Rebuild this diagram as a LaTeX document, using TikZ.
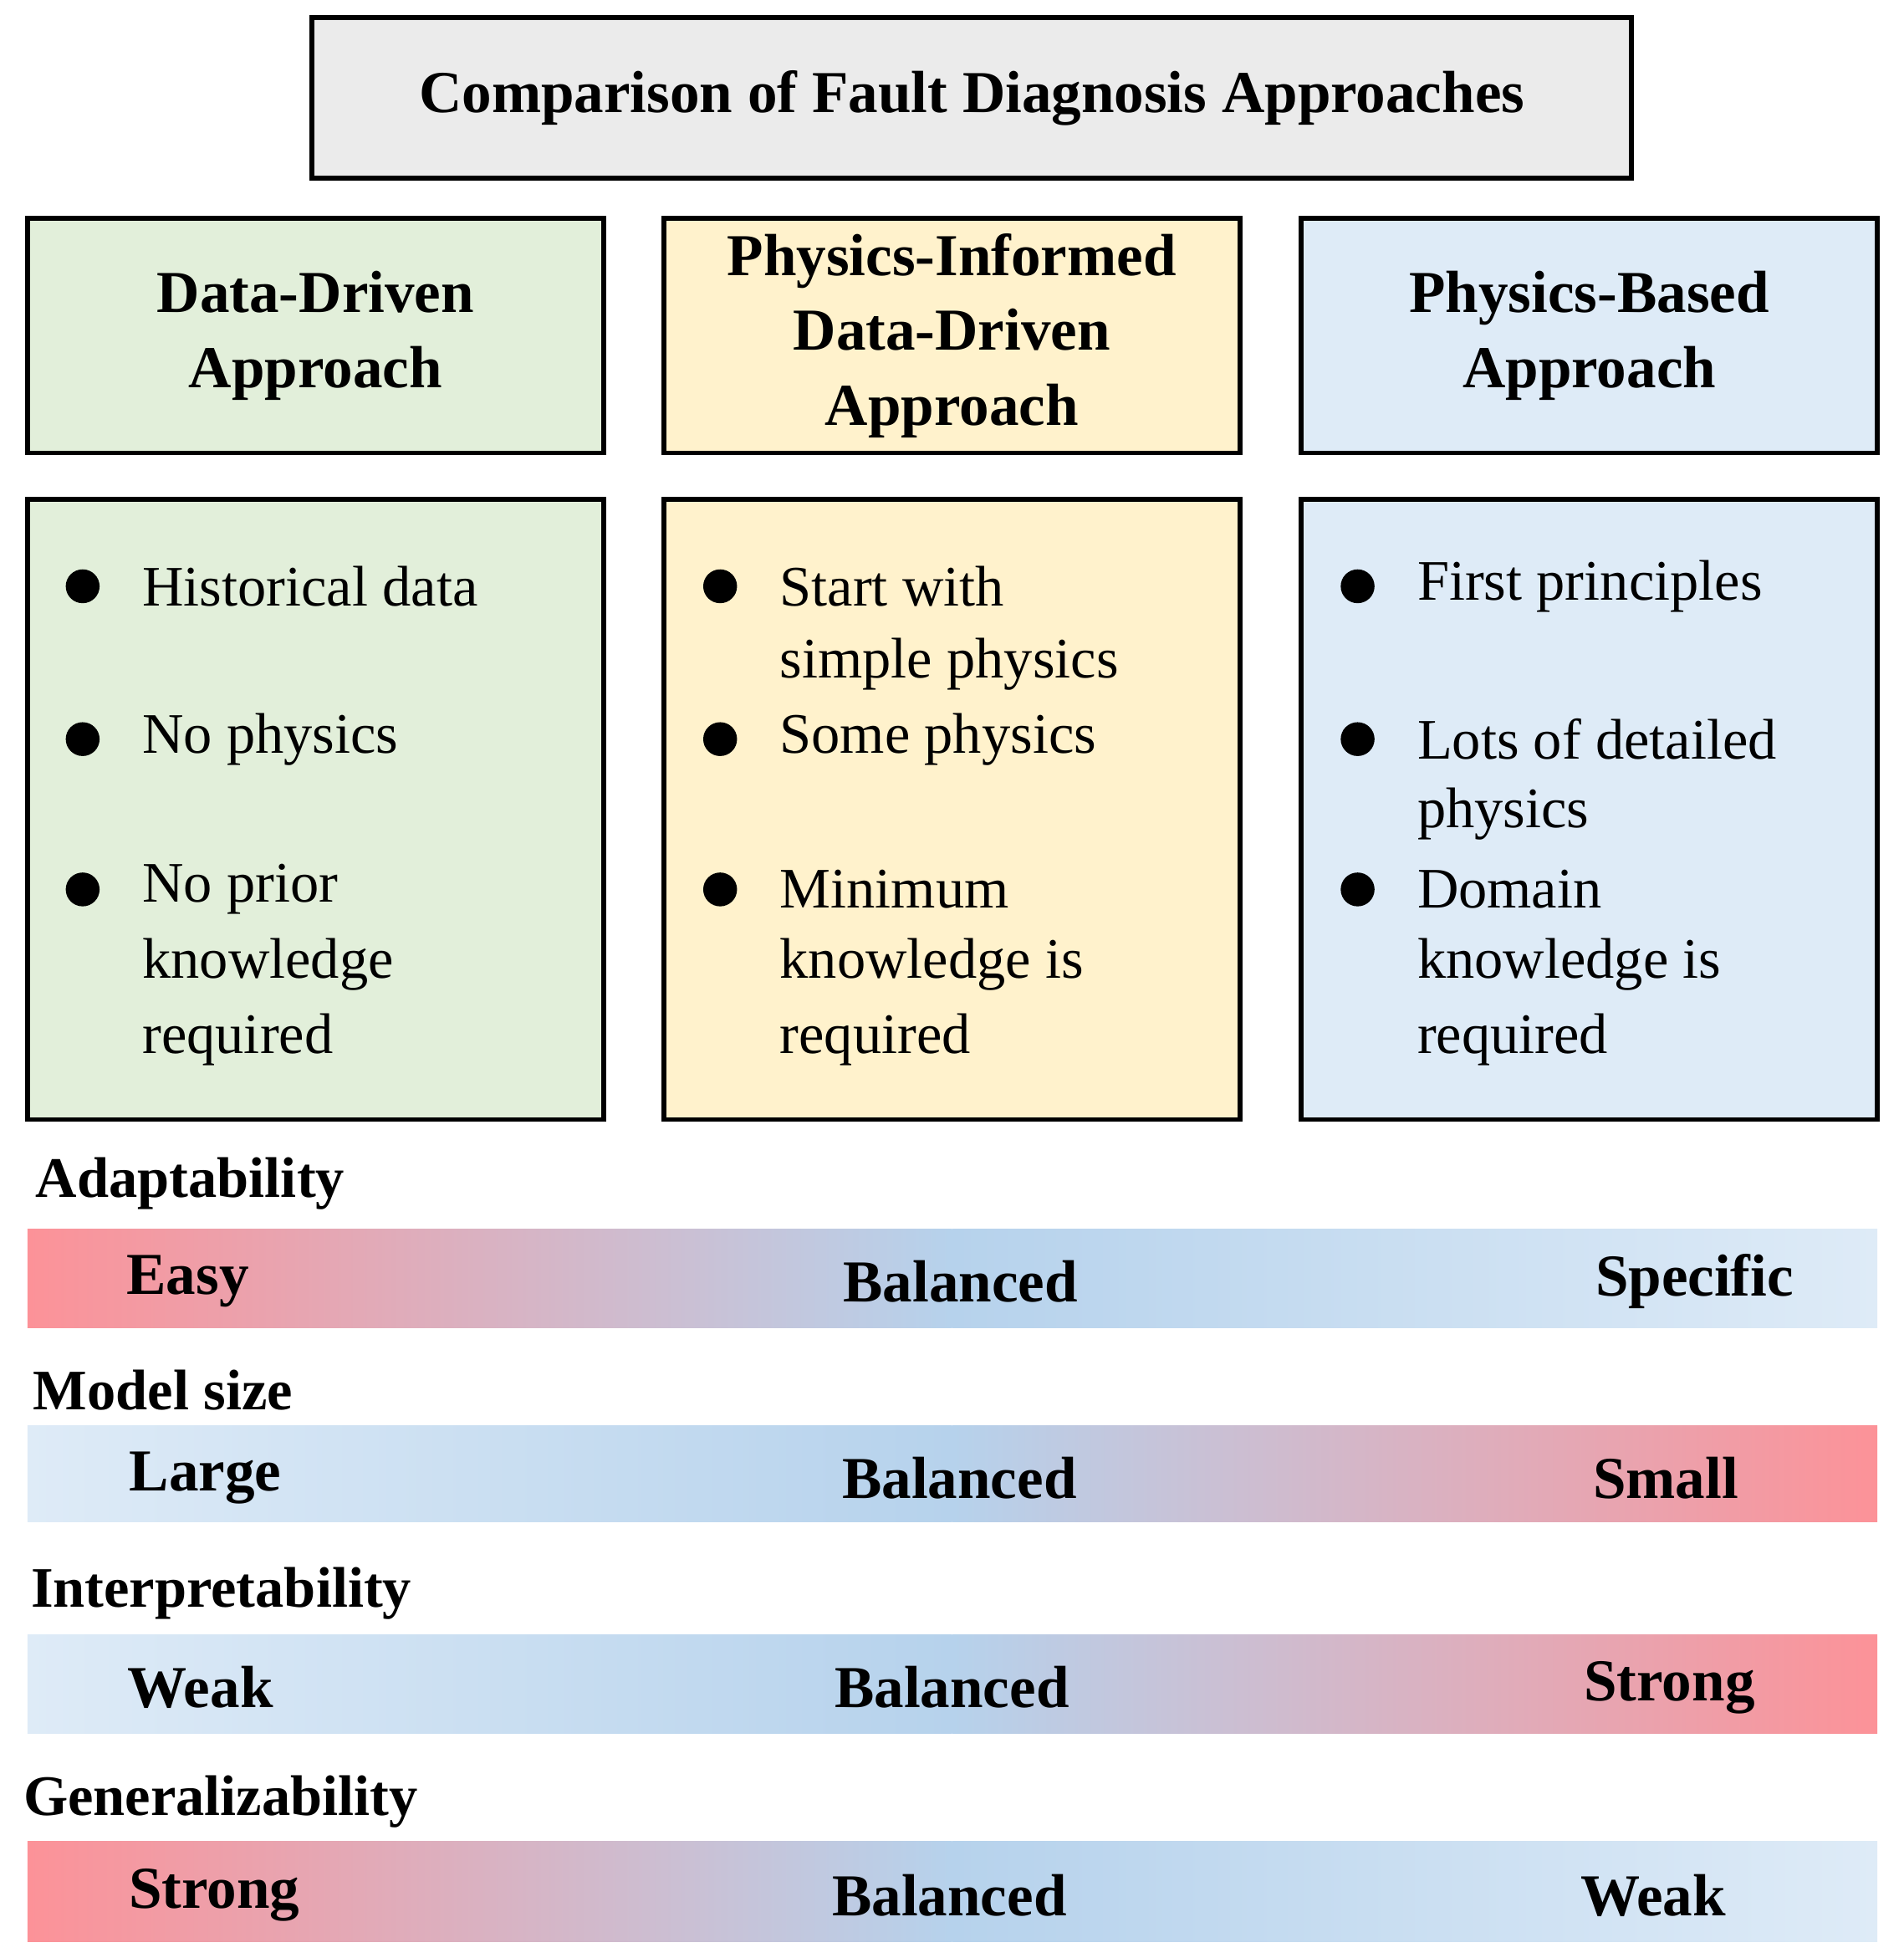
\documentclass[tikz,border=0pt]{standalone}
\usepackage{fontspec}
\setmainfont{Liberation Serif}
\begin{document}
\begin{tikzpicture}[x=0.01cm,y=-0.01cm,
 box/.style={draw=black,line width=1.1pt},
 hd/.style={font=\fontsize{13.5}{17}\selectfont\bfseries,align=center},
 tx/.style={font=\fontsize{13}{17}\selectfont,anchor=west,inner sep=0},
 lab/.style={font=\fontsize{13}{17}\selectfont\bfseries,anchor=west,inner sep=0},
 bl/.style={font=\fontsize{13.5}{17}\selectfont\bfseries,inner sep=0},
 dot/.style={circle,fill=black,minimum size=0.27cm,inner sep=0}]
\definecolor{gr}{HTML}{E2EFDA}\definecolor{ye}{HTML}{FFF2CC}\definecolor{bu}{HTML}{DEEBF7}
\definecolor{rd}{HTML}{FC9298}\definecolor{md}{HTML}{B6D2EC}\definecolor{lt}{HTML}{DEEBF7}
\useasboundingbox (0,0) rectangle (1520,1563);
\node[box,fill=black!8,minimum width=10.53cm,minimum height=1.28cm,font=\fontsize{13.5}{17}\selectfont\bfseries] (title) at (776,78) {Comparison of Fault Diagnosis Approaches};
\node[box,fill=gr,minimum width=4.6cm,minimum height=1.87cm,hd] (h1) at (252,268) {Data-Driven\\Approach};
\node[box,fill=ye,minimum width=4.6cm,minimum height=1.87cm,hd] (h2) at (760,268) {Physics-Informed\\Data-Driven\\Approach};
\node[box,fill=bu,minimum width=4.6cm,minimum height=1.87cm,hd] (h3) at (1269,268) {Physics-Based\\Approach};
\node[box,fill=gr,minimum width=4.6cm,minimum height=4.95cm] (b1) at (252,646) {};
\node[box,fill=ye,minimum width=4.6cm,minimum height=4.95cm] (b2) at (760,646) {};
\node[box,fill=bu,minimum width=4.6cm,minimum height=4.95cm] (b3) at (1269,646) {};
% column 1
\node[dot] (d11) at (66,468) {}; \node[tx] (t11) at (113,468) {Historical data};
\node[dot] (d12) at (66,590) {}; \node[tx] (t12) at (113,590) {No physics};
\node[dot] (d13) at (66,710) {}; \node[tx] (t13) at (113,710) {No prior};
\node[tx] (t13b) at (113,770) {knowledge}; \node[tx] (t13c) at (113,830) {required};
% column 2
\node[dot] (d21) at (575,468) {}; \node[tx] (t21) at (622,468) {Start with};
\node[tx] (t21b) at (622,530) {simple physics};
\node[dot] (d22) at (575,590) {}; \node[tx] (t22) at (622,590) {Some physics};
\node[dot] (d23) at (575,710) {}; \node[tx] (t23) at (622,710) {Minimum};
\node[tx] (t23b) at (622,770) {knowledge is}; \node[tx] (t23c) at (622,830) {required};
% column 3
\node[dot] (d31) at (1084,468) {}; \node[tx] (t31) at (1131,468) {First principles};
\node[dot] (d32) at (1084,590) {}; \node[tx] (t32) at (1131,590) {Lots of detailed};
\node[tx] (t32b) at (1131,650) {physics};
\node[dot] (d33) at (1084,710) {}; \node[tx] (t33) at (1131,710) {Domain};
\node[tx] (t33b) at (1131,770) {knowledge is}; \node[tx] (t33c) at (1131,830) {required};
% bars
\node[lab] (l1) at (28,945) {Adaptability};
\shade[left color=rd,right color=md] (22,981) rectangle (760,1060);
\shade[left color=md,right color=lt] (760,981) rectangle (1499,1060);
\node[bl] (e1) at (150,1023) {Easy}; \node[bl] (m1) at (767,1023) {Balanced}; \node[bl] (s1) at (1353,1023) {Specific};
\node[lab] (l2) at (26,1110) {Model size};
\shade[left color=lt,right color=md] (22,1138) rectangle (760,1215);
\shade[left color=md,right color=rd] (760,1138) rectangle (1499,1215);
\node[bl] (e2) at (164,1180) {Large}; \node[bl] (m2) at (766,1180) {Balanced}; \node[bl] (s2) at (1330,1180) {Small};
\node[lab] (l3) at (24,1272) {Interpretability};
\shade[left color=lt,right color=md] (22,1305) rectangle (760,1384);
\shade[left color=md,right color=rd] (760,1305) rectangle (1499,1384);
\node[bl] (e3) at (160,1347) {Weak}; \node[bl] (m3) at (760,1347) {Balanced}; \node[bl] (s3) at (1333,1347) {Strong};
\node[lab] (l4) at (18,1438) {Generalizability};
\shade[left color=rd,right color=md] (22,1470) rectangle (760,1550);
\shade[left color=md,right color=lt] (760,1470) rectangle (1499,1550);
\node[bl] (e4) at (171,1513) {Strong}; \node[bl] (m4) at (758,1513) {Balanced}; \node[bl] (s4) at (1320,1513) {Weak};
\end{tikzpicture}
\end{document}
